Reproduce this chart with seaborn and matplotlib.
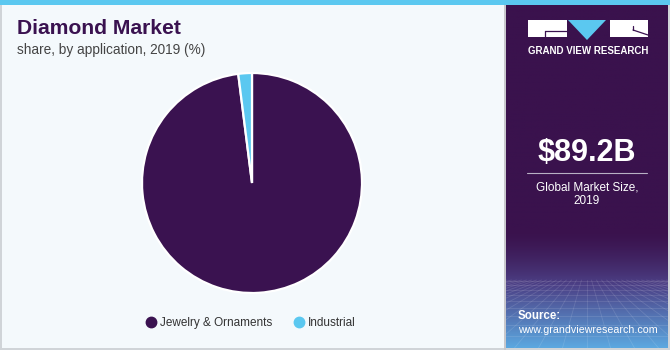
import numpy as np
import matplotlib
matplotlib.use("Agg")
import matplotlib.pyplot as plt
from matplotlib.patches import Rectangle, Polygon
from matplotlib.lines import Line2D
import seaborn as sns

# Market share by application, 2019 (%)
applications = ["Jewelry & Ornaments", "Industrial"]
shares = [98.0, 2.0]
colors = ["#3A1250", "#5BC8F0"]

title = "Diamond Market"
subtitle = "share, by application, 2019 (%)"
market_size = "$89.2B"
market_label = "Global Market Size,\n2019"
source_head = "Source:"
source_url = "www.grandviewresearch.com"

sns.set_theme(style="white")
plt.rcParams["font.family"] = ["Liberation Sans", "DejaVu Sans"]

W, H = 670, 350
fig = plt.figure(figsize=(W / 100, H / 100), dpi=100)
fig.patch.set_facecolor("#F4F9FC")


def px_axes(x0, y0, w, h, **kw):
    """Axes placed with pixel coordinates measured from the top-left corner."""
    return fig.add_axes([x0 / W, 1 - (y0 + h) / H, w / W, h / H], **kw)


# Frame: top stripe and thin borders
bg = px_axes(0, 0, W, H)
bg.set_xlim(0, W)
bg.set_ylim(H, 0)
bg.axis("off")
bg.add_patch(Rectangle((0, 0), W, 5, color="#5BC8F0", lw=0))
bg.add_patch(Rectangle((0, 5), 1.5, H, color="#D0D4D8", lw=0))
bg.add_patch(Rectangle((0, H - 2), W, 2, color="#D0D4D8", lw=0))
bg.add_patch(Rectangle((W - 2.5, 5), 2.5, H, color="#D0D4D8", lw=0))
bg.add_patch(Rectangle((504, 5), 1.5, H, color="#C8C8CC", lw=0))

# Title block
fig.text(17 / W, 1 - 29 / H, title, fontsize=15.2, fontweight="bold",
         color="#3A1250", va="center", ha="left")
fig.text(17 / W, 1 - 50 / H, subtitle, fontsize=9.8, color="#444444",
         va="center", ha="left")

# Pie
cx, cy, r = 252, 183, 110
pax = px_axes(cx - r, cy - r, 2 * r, 2 * r)
wedges, _ = pax.pie(shares, colors=colors, startangle=90, counterclock=False,
                    wedgeprops=dict(edgecolor="white", linewidth=1.6))
pax.set_xlim(-1, 1)
pax.set_ylim(-1, 1)
pax.set_aspect("equal")
pax.axis("off")

# Legend
handles = [Line2D([0], [0], marker="o", linestyle="", markersize=7.5,
                  markerfacecolor=c, markeredgecolor=c) for c in colors]
fig.legend(handles, applications, loc="center left",
           bbox_to_anchor=(134 / W, 1 - 323 / H), ncol=2, frameon=False,
           fontsize=8.5, handletextpad=0.3, columnspacing=1.75,
           labelcolor="#333333", handlelength=1.0)

# Right information panel
px0, py0, pw, ph = 505.5, 5, 162, 343
rp = px_axes(px0, py0, pw, ph)
rp.set_xlim(0, pw)
rp.set_ylim(ph, 0)
rp.axis("off")

top = np.array([0x3A, 0x12, 0x4D]) / 255
mid = np.array([0x4C, 0x40, 0x86]) / 255
bot = np.array([0x5C, 0xA8, 0xE0]) / 255
ys = np.linspace(0, ph, 400)
grad = np.zeros((400, 1, 3))
for i, y in enumerate(ys):
    if y < 225:
        c = top
    elif y < 280:
        t = ((y - 225) / 55) ** 1.5
        c = top * (1 - t) + mid * t
    else:
        t = (y - 280) / (ph - 280)
        c = mid * (1 - t) + bot * t
    grad[i, 0] = c
rp.imshow(grad, extent=(0, pw, ph, 0), aspect="auto", zorder=0)

# faint perspective mesh in the lower part of the panel
for k in range(-16, 17):
    xs = [pw / 2 + k * 5, pw / 2 + k * 24]
    rp.plot(xs, [275, ph], color="white", alpha=0.12, lw=0.6, zorder=1)
yy = 276
step = 4
while yy < ph:
    rp.plot([0, pw], [yy, yy], color="white", alpha=0.12, lw=0.6, zorder=1)
    yy += step
    step *= 1.15

# Logo
ox = -px0
oy = -py0
rp.add_patch(Rectangle((527.7 + ox, 20 + oy), 39, 17, color="white", lw=0, zorder=3))
rp.plot([545 + ox, 567 + ox], [30.5 + oy, 30.5 + oy], color="#3A1250", lw=0.9, zorder=4)
rp.plot([545 + ox, 545 + ox], [30.5 + oy, 37 + oy], color="#3A1250", lw=0.9, zorder=4)
rp.add_patch(Polygon([(568 + ox, 20 + oy), (606 + ox, 20 + oy), (587 + ox, 40 + oy)],
                     closed=True, color="#5BC8F0", lw=0, zorder=3))
rp.add_patch(Rectangle((610 + ox, 20 + oy), 38, 17, color="white", lw=0, zorder=3))
rp.plot([633 + ox, 648 + ox], [30 + oy, 35 + oy], color="#3A1250", lw=0.9, zorder=4)
rp.plot([633 + ox, 633 + ox], [26 + oy, 30 + oy], color="#3A1250", lw=0.9, zorder=4)
rp.text(588 + ox, 51 + oy, "GRAND VIEW RESEARCH", color="white", fontsize=7,
        fontweight="bold", ha="center", va="center", zorder=4)

# Market size
rp.text(586.5 + ox, 153 + oy, market_size, color="white", fontsize=22,
        fontweight="bold", ha="center", va="center", zorder=4)
rp.plot([527 + ox, 647 + ox], [172.5 + oy, 172.5 + oy], color="#B8B0C4", lw=0.8, zorder=4)
rp.text(587 + ox, 194 + oy, market_label, color="white", fontsize=8.5,
        ha="center", va="center", linespacing=1.15, zorder=4)

# Source
rp.text(518 + ox, 316 + oy, source_head, color="white", fontsize=8.3,
        fontweight="bold", ha="left", va="center", zorder=4)
rp.text(518 + ox, 330 + oy, source_url, color="white", fontsize=7.7,
        ha="left", va="center", zorder=4)

fig.savefig("out.png", dpi=100, facecolor=fig.get_facecolor())
